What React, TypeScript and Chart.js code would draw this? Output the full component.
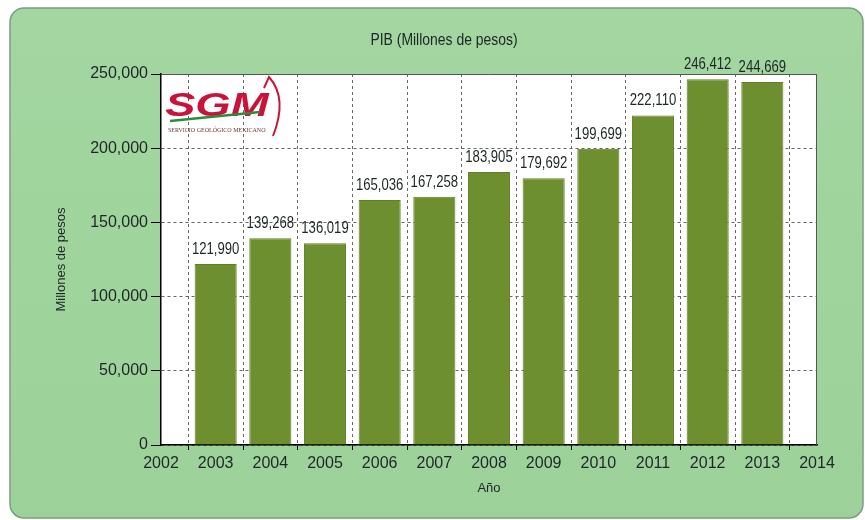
import React, { useEffect, useRef } from "react";
import { Chart, registerables } from "chart.js";

Chart.register(...registerables);

const years: string[] = ["2002", "2003", "2004", "2005", "2006", "2007", "2008", "2009", "2010", "2011", "2012", "2013", "2014"];
const pib: (number | null)[] = [null, 121990, 139268, 136019, 165036, 167258, 183905, 179692, 199699, 222110, 246412, 244669, null];
const yTicks: number[] = [0, 50000, 100000, 150000, 200000, 250000];
const chartTitle = "PIB (Millones de pesos)";
const yTitle = "Millones de pesos";
const xTitle = "Año";

const REG = "'Liberation Sans', Arial, sans-serif";

const fmt = (v: number) => v.toLocaleString("en-US");

function narrowText(ctx: CanvasRenderingContext2D, text: string, x: number, y: number, size: number) {
  ctx.save();
  ctx.translate(x, y);
  ctx.scale(0.82, 1);
  ctx.font = `${size}px ${REG}`;
  ctx.fillText(text, 0, 0);
  ctx.restore();
}

function drawLogo(ctx: CanvasRenderingContext2D, ox: number, oy: number) {
  ctx.save();
  ctx.strokeStyle = "#c8143a";
  ctx.lineWidth = 2;
  ctx.beginPath();
  ctx.moveTo(ox + 102, oy + 14);
  ctx.lineTo(ox + 107, oy + 3);
  ctx.quadraticCurveTo(ox + 126, oy + 24, ox + 111, oy + 62);
  ctx.stroke();
  ctx.fillStyle = "#c8143a";
  ctx.font = `italic bold 33px ${REG}`;
  ctx.textBaseline = "alphabetic";
  ctx.translate(ox + 3, oy + 42);
  ctx.scale(1.38, 1);
  ctx.fillText("SGM", 0, 0);
  ctx.restore();
  ctx.save();
  ctx.strokeStyle = "#2f8a3c";
  ctx.lineWidth = 2.5;
  ctx.beginPath();
  ctx.moveTo(ox + 8, oy + 47);
  ctx.lineTo(ox + 98, oy + 38);
  ctx.stroke();
  ctx.fillStyle = "#6b3b3b";
  ctx.font = `6px 'Liberation Serif', serif`;
  ctx.textBaseline = "alphabetic";
  ctx.fillText("SERVICIO GEOLÓGICO MEXICANO", ox + 6, oy + 58);
  ctx.restore();
}

const decorPlugin = {
  id: "decor",
  beforeDraw(chart: any) {
    const { ctx, chartArea } = chart;
    ctx.save();
    ctx.fillStyle = "#ffffff";
    ctx.fillRect(0, 0, chart.width, chart.height);
    const x = 10, y = 8, w = 853, h = 510, r = 14;
    const g = ctx.createLinearGradient(0, y, 0, y + h);
    g.addColorStop(0, "#a3d6a0");
    g.addColorStop(1, "#9cd29a");
    ctx.fillStyle = g;
    ctx.beginPath();
    ctx.roundRect(x, y, w, h, r);
    ctx.fill();
    ctx.strokeStyle = "#7f9c82";
    ctx.lineWidth = 1.5;
    ctx.stroke();
    ctx.fillStyle = "#ffffff";
    ctx.fillRect(chartArea.left, chartArea.top, chartArea.right - chartArea.left, chartArea.bottom - chartArea.top);
    ctx.restore();
  },
  beforeDatasetsDraw(chart: any) {
    const { ctx, chartArea } = chart;
    ctx.save();
    ctx.strokeStyle = "#555555";
    ctx.lineWidth = 1;
    ctx.beginPath();
    ctx.moveTo(chartArea.left, chartArea.top + 0.5);
    ctx.lineTo(chartArea.right - 0.5, chartArea.top + 0.5);
    ctx.lineTo(chartArea.right - 0.5, chartArea.bottom);
    ctx.stroke();
    ctx.restore();
    drawLogo(ctx, chartArea.left + 1, chartArea.top);
  },
  afterDatasetsDraw(chart: any) {
    const { ctx, chartArea } = chart;
    const meta = chart.getDatasetMeta(0);
    ctx.save();
    ctx.fillStyle = "#1e2626";
    ctx.textAlign = "center";
    ctx.textBaseline = "alphabetic";
    meta.data.forEach((el: any, i: number) => {
      const v = pib[i];
      if (v == null) return;
      narrowText(ctx, fmt(v), el.x, el.y - 10, 16);
    });
    ctx.textBaseline = "middle";
    narrowText(ctx, chartTitle, (chartArea.left + chartArea.right) / 2 - 45, 40, 17);
    ctx.restore();
  },
};

export default function App() {
  const ref = useRef<HTMLCanvasElement | null>(null);
  useEffect(() => {
    if (!ref.current) return;
    const chart = new Chart(ref.current, {
      type: "bar",
      data: {
        labels: years,
        datasets: [
          {
            data: pib as any,
            backgroundColor: "#6d8f2f",
            borderColor: "#5f8026",
            borderWidth: 1,
            categoryPercentage: 1,
            barPercentage: 0.77,
          },
        ],
      },
      options: {
        responsive: false,
        animation: false,
        devicePixelRatio: 1,
        layout: { padding: { left: 50, top: 74, right: 48, bottom: 14 } },
        plugins: { legend: { display: false }, tooltip: { enabled: false }, title: { display: false } },
        scales: {
          x: {
            type: "category",
            offset: false,
            grid: { color: "#666666", tickColor: "#000000", tickLength: 5, tickBorderDash: [], lineWidth: 1 },
            border: { display: true, color: "#000000", width: 1.5, dash: [3, 3] },
            ticks: { color: "#1e2626", font: { family: REG, size: 16 }, padding: 4, maxRotation: 0, autoSkip: false },
            title: { display: true, text: xTitle, color: "#1e2626", font: { family: REG, size: 13 }, padding: { top: 0, bottom: 10 } },
            afterFit: (s: any) => { s.height = 61; },
          },
          y: {
            min: 0,
            max: 250000,
            afterBuildTicks: (s: any) => { s.ticks = yTicks.map((v) => ({ value: v })); },
            grid: { color: "#666666", tickColor: "#000000", tickLength: 10, tickBorderDash: [], lineWidth: 1 },
            border: { display: true, color: "#000000", width: 1.5, dash: [3, 3] },
            ticks: { color: "#1e2626", font: { family: REG, size: 16 }, padding: 3, callback: (v: any) => fmt(Number(v)) },
            title: { display: true, text: yTitle, color: "#1e2626", font: { family: REG, size: 13 }, padding: { top: 4, bottom: 0 } },
            afterFit: (s: any) => { s.width = 111; },
          },
        },
      },
      plugins: [decorPlugin],
    });
    return () => chart.destroy();
  }, []);
  return (
    <div style={{ position: "absolute", left: 0, top: 0, width: 865, height: 520 }}>
      <canvas ref={ref} width={865} height={520} style={{ display: "block" }} />
    </div>
  );
}
